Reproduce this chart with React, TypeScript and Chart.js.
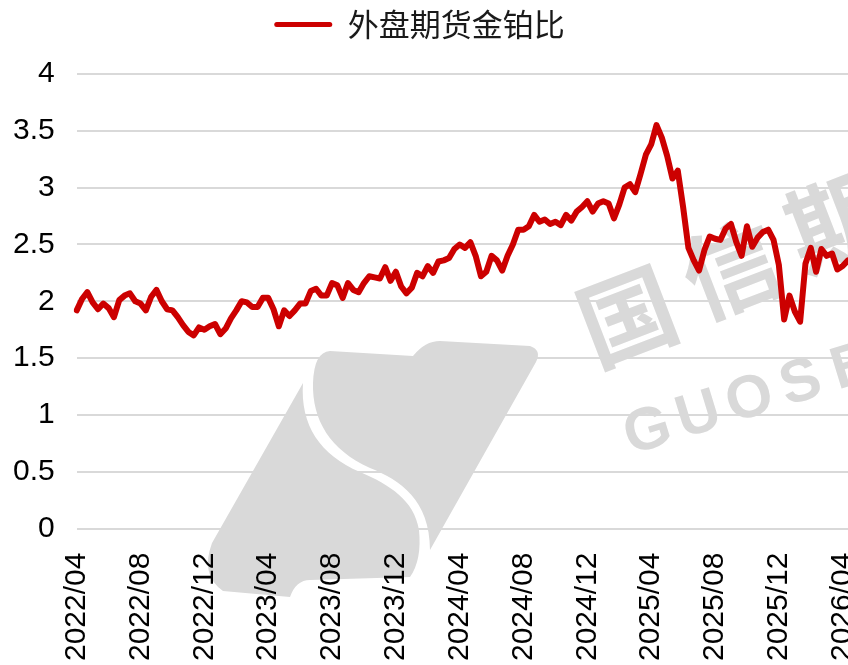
import React, { useEffect, useRef } from "react";
import { Chart, registerables } from "chart.js";

Chart.register(...registerables);

const seriesName = "外盘期货金铂比";
const tickMonths = [
  "2022/04", "2022/08", "2022/12", "2023/04", "2023/08", "2023/12",
  "2024/04", "2024/08", "2024/12", "2025/04", "2025/08", "2025/12", "2026/04",
];
const pointDays = ["01", "11", "21"];
const firstYear = 2022;
const firstMonth = 4;
const lastLabel = "2026/04/11";

// ratio of gold to platinum futures (3 readings per month)
const ratioValues = [
  1.92, 2.02, 2.08, 1.99, 1.93, 1.98, 1.94, 1.86, 2.01, 2.05,
  2.07, 2.0, 1.98, 1.92, 2.04, 2.1, 2.0, 1.93, 1.92, 1.86,
  1.79, 1.73, 1.7, 1.77, 1.75, 1.78, 1.8, 1.71, 1.76, 1.85,
  1.92, 2.0, 1.99, 1.95, 1.95, 2.03, 2.03, 1.93, 1.78, 1.92,
  1.87, 1.92, 1.98, 1.98, 2.09, 2.11, 2.05, 2.05, 2.16, 2.14,
  2.03, 2.16, 2.1, 2.08, 2.16, 2.22, 2.21, 2.2, 2.3, 2.18,
  2.26, 2.13, 2.07, 2.12, 2.25, 2.22, 2.31, 2.25, 2.35, 2.36,
  2.38, 2.46, 2.5, 2.47, 2.52, 2.4, 2.22, 2.26, 2.4, 2.36,
  2.27, 2.4, 2.5, 2.63, 2.63, 2.66, 2.76, 2.7, 2.72, 2.68,
  2.7, 2.67, 2.76, 2.71, 2.79, 2.83, 2.88, 2.79, 2.86, 2.88,
  2.86, 2.73, 2.85, 3.0, 3.03, 2.96, 3.12, 3.29, 3.38, 3.55,
  3.44, 3.28, 3.08, 3.15, 2.83, 2.47, 2.36, 2.27, 2.45, 2.57,
  2.55, 2.54, 2.64, 2.68, 2.52, 2.4, 2.66, 2.48, 2.56, 2.61,
  2.63, 2.54, 2.32, 1.84, 2.05, 1.91, 1.82, 2.33, 2.47, 2.26,
  2.46, 2.4, 2.42, 2.28, 2.31, 2.36,
];

const yMin = 0;
const yMax = 4;
const yStep = 0.5;

function buildLabels(): string[] {
  const out: string[] = [];
  let y = firstYear;
  let m = firstMonth;
  while (out.length < ratioValues.length) {
    for (const d of pointDays) {
      const lab = `${y}/${String(m).padStart(2, "0")}/${d}`;
      out.push(lab);
      if (lab === lastLabel || out.length >= ratioValues.length) break;
    }
    m += 1;
    if (m > 12) {
      m = 1;
      y += 1;
    }
  }
  return out;
}

const dateLabels = buildLabels();

// adds empty space under the legend
const legendGapPlugin = {
  id: "legendGap",
  beforeLayout(chart: any) {
    const lg = chart.legend;
    if (lg && !lg.__gapPatched) {
      const origFit = lg.fit.bind(lg);
      lg.fit = () => {
        origFit();
        lg.height += 24;
      };
      lg.__gapPatched = true;
    }
  },
};

const watermarkPlugin = {
  id: "watermark",
  beforeDraw(chart: any) {
    const ctx: CanvasRenderingContext2D = chart.ctx;
    ctx.save();
    ctx.fillStyle = "#d9d9d9";
    // logo right piece
    ctx.beginPath();
    ctx.moveTo(330, 351);
    ctx.lineTo(413, 356);
    ctx.quadraticCurveTo(425, 341, 440, 341);
    ctx.lineTo(530, 346);
    ctx.quadraticCurveTo(542, 350, 536, 362);
    ctx.lineTo(430, 550);
    ctx.bezierCurveTo(430, 500, 400, 480, 370, 468);
    ctx.bezierCurveTo(330, 450, 312, 420, 313, 383);
    ctx.quadraticCurveTo(314, 352, 330, 351);
    ctx.closePath();
    ctx.fill();
    // logo left piece
    ctx.beginPath();
    ctx.moveTo(303, 383);
    ctx.lineTo(212, 543);
    ctx.quadraticCurveTo(200, 575, 223, 591);
    ctx.lineTo(290, 597);
    ctx.quadraticCurveTo(296, 580, 310, 580);
    ctx.lineTo(410, 577);
    ctx.quadraticCurveTo(422, 560, 419, 530);
    ctx.bezierCurveTo(414, 500, 390, 485, 360, 472);
    ctx.bezierCurveTo(320, 455, 300, 425, 303, 383);
    ctx.closePath();
    ctx.fill();

    // Chinese characters
    ctx.font = 'bold 96px "Noto Sans CJK SC", sans-serif';
    ctx.textAlign = "center";
    ctx.textBaseline = "middle";
    const chars = ["国", "信", "期", "货"];
    chars.forEach((c, i) => {
      ctx.save();
      ctx.translate(627 + i * 104, 316 - i * 47);
      ctx.rotate((-21 * Math.PI) / 180);
      ctx.fillText(c, 0, 0);
      ctx.restore();
    });
    // Latin letters
    ctx.font = 'bold 60px "Liberation Sans", Arial, sans-serif';
    const letters = ["G", "U", "O", "S", "E", "N"];
    letters.forEach((c, i) => {
      ctx.save();
      ctx.translate(648 + i * 51, 432 - i * 16);
      ctx.rotate((-17 * Math.PI) / 180);
      ctx.fillText(c, 0, 0);
      ctx.restore();
    });
    ctx.restore();
  },
};

export default function App() {
  const canvasRef = useRef<HTMLCanvasElement | null>(null);

  useEffect(() => {
    if (!canvasRef.current) return;
    const chart = new Chart(canvasRef.current, {
      type: "line",
      data: {
        labels: dateLabels,
        datasets: [
          {
            label: seriesName,
            data: ratioValues,
            borderColor: "#cc0000",
            backgroundColor: "#cc0000",
            borderWidth: 6,
            pointRadius: 0,
            tension: 0,
            borderJoinStyle: "round",
            borderCapStyle: "round",
          },
        ],
      },
      options: {
        animation: false,
        responsive: true,
        maintainAspectRatio: false,
        layout: { padding: { left: -9, right: 0, top: -26, bottom: -20 } },
        plugins: {
          tooltip: { enabled: false },
          legend: {
            display: true,
            position: "top",
            labels: {
              color: "#1a1a1a",
              font: { size: 31, family: '"Noto Sans CJK SC", "Liberation Sans", sans-serif' },
              boxWidth: 58,
              boxHeight: 5,
              useBorderRadius: true,
              borderRadius: 2.5,
              padding: 34,
              generateLabels: () => [
                {
                  text: seriesName,
                  fillStyle: "#cc0000",
                  strokeStyle: "#cc0000",
                  lineWidth: 0,
                  hidden: false,
                  datasetIndex: 0,
                  fontColor: "#1a1a1a",
                  borderRadius: 2.5,
                },
              ],
            },
          },
        },
        scales: {
          x: {
            type: "category",
            offset: false,
            grid: { display: false, drawTicks: false },
            border: { display: false },
            afterFit: (scale: any) => {
              scale.paddingLeft = 0;
              scale.paddingRight = 0;
            },
            ticks: {
              autoSkip: false,
              minRotation: 90,
              maxRotation: 90,
              padding: 24,
              color: "#000",
              font: { size: 30, family: '"Liberation Sans", Arial, sans-serif' },
              callback: (_v: any, idx: number) => {
                const lab = dateLabels[idx];
                if (!lab) return "";
                const ym = lab.slice(0, 7);
                return lab.endsWith("/01") && tickMonths.includes(ym) ? ym : "";
              },
            },
          },
          y: {
            min: yMin,
            max: yMax,
            grid: { color: "#d9d9d9", lineWidth: 2, drawTicks: false },
            border: { display: false },
            afterFit: (scale: any) => {
              scale.paddingTop = 74;
            },
            ticks: {
              stepSize: yStep,
              padding: 22,
              color: "#000",
              font: { size: 30, family: '"Liberation Sans", Arial, sans-serif' },
              callback: (v: any) => String(Number(v)),
            },
          },
        },
      },
      plugins: [legendGapPlugin, watermarkPlugin],
    });
    return () => chart.destroy();
  }, []);

  return (
    <div style={{ position: "fixed", left: 0, top: 0, width: 848, height: 665, background: "#fff" }}>
      <canvas ref={canvasRef} />
    </div>
  );
}
